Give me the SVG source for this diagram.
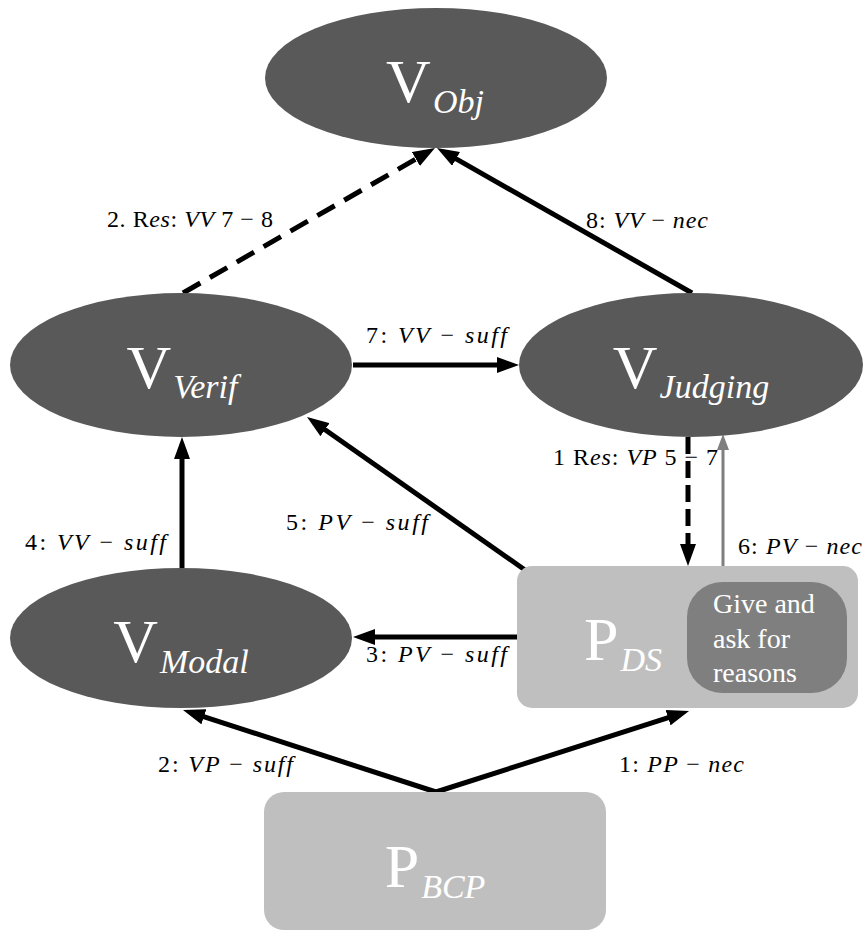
<svg xmlns="http://www.w3.org/2000/svg" width="866" height="932" viewBox="0 0 866 932">
<defs>
<marker id="ah" markerUnits="userSpaceOnUse" markerWidth="22" markerHeight="16" refX="6" refY="8" orient="auto"><path d="M0,0 L22,8 L0,16 z" fill="#000"/></marker>
<marker id="ahg" markerUnits="userSpaceOnUse" markerWidth="16" markerHeight="12" refX="4" refY="6" orient="auto"><path d="M0,0 L16,6 L0,12 z" fill="#7f7f7f"/></marker>
<style>
.e{stroke:#000;stroke-width:5;fill:none;marker-end:url(#ah)}
.d1{stroke-dasharray:20 11}
.d2{stroke-dasharray:17 7}
.g{stroke:#7f7f7f;stroke-width:3;fill:none;marker-end:url(#ahg)}
.ell{fill:#595959}
.box{fill:#bfbfbf}
.inner{fill:#7f7f7f}
text{font-family:'Liberation Serif',serif}
.big{font-size:62px;fill:#fff}
.sub{font-style:italic;font-size:34px}
.lbl{font-size:24px;fill:#000}
.it{font-style:italic}
.txt{font-size:28px;fill:#fff}
</style>
</defs>
<g id="connectors">
<line class="e d1" x1="183" y1="293" x2="421.1" y2="156"/>
<line class="e" x1="692" y1="293" x2="450.9" y2="155.9"/>
<line class="e" x1="353" y1="365" x2="503" y2="365"/>
<line class="e d2" x1="688" y1="437" x2="688" y2="550"/>
<line class="g" x1="723" y1="582" x2="723" y2="446"/>
<line class="e" x1="525" y1="570" x2="320.1" y2="426.2"/>
<line class="e" x1="182" y1="568" x2="182" y2="453"/>
<line class="e" x1="517" y1="637" x2="369" y2="637"/>
<line class="e" x1="436" y1="792" x2="198.2" y2="714.9"/>
<line class="e" x1="436" y1="792" x2="673.8" y2="715.9"/>
</g>
<g id="V_Obj"><ellipse class="ell" cx="436" cy="78" rx="171" ry="70"/><text class="big" font-family="Liberation Serif, serif" x="435" y="102" text-anchor="middle">V<tspan class="sub" dx="2" dy="11">Obj</tspan></text></g>
<g id="V_Verif"><ellipse class="ell" cx="181" cy="365" rx="171" ry="72"/><text class="big" font-family="Liberation Serif, serif" x="182" y="388" text-anchor="middle">V<tspan class="sub" dx="2" dy="10">Verif</tspan></text></g>
<g id="V_Judging"><ellipse class="ell" cx="691" cy="365" rx="172" ry="72"/><text class="big" font-family="Liberation Serif, serif" x="691" y="388" text-anchor="middle">V<tspan class="sub" dx="2" dy="10">Judging</tspan></text></g>
<g id="V_Modal"><ellipse class="ell" cx="181" cy="638" rx="171" ry="70"/><text class="big" font-family="Liberation Serif, serif" x="181" y="662" text-anchor="middle">V<tspan class="sub" dx="2" dy="11">Modal</tspan></text></g>
<g id="P_DS"><rect class="box" x="517" y="566" width="341" height="142" rx="15"/><text class="big" font-family="Liberation Serif, serif" x="623" y="660" text-anchor="middle">P<tspan class="sub" dx="2" dy="11">DS</tspan></text>
<g id="GiveAsk"><rect class="inner" x="687" y="582" width="160" height="111" rx="35"/><text class="txt" font-family="Liberation Serif, serif" x="713" y="613">Give and</text><text class="txt" font-family="Liberation Serif, serif" x="713" y="648">ask for</text><text class="txt" font-family="Liberation Serif, serif" x="713" y="682">reasons</text></g></g>
<g id="P_BCP"><rect class="box" x="264" y="792" width="342" height="138" rx="20"/><text class="big" font-family="Liberation Serif, serif" x="435" y="887" text-anchor="middle">P<tspan class="sub" dx="2" dy="11">BCP</tspan></text></g>
<g id="edge-labels" font-family="Liberation Serif, serif">
<text class="lbl" x="107" y="227" textLength="166">2. R<tspan class="it">es</tspan>: <tspan class="it">VV</tspan> 7 − 8</text>
<text class="lbl" x="586" y="228" textLength="122">8: <tspan class="it">VV</tspan> − <tspan class="it">nec</tspan></text>
<text class="lbl" x="366" y="343" textLength="141">7: <tspan class="it">VV</tspan> − <tspan class="it">suff</tspan></text>
<text class="lbl" x="553" y="465" textLength="165">1 R<tspan class="it">es</tspan>: <tspan class="it">VP</tspan> 5 − 7</text>
<text class="lbl" x="286" y="530" textLength="142">5: <tspan class="it">PV</tspan> − <tspan class="it">suff</tspan></text>
<text class="lbl" x="25" y="550" textLength="141">4: <tspan class="it">VV</tspan> − <tspan class="it">suff</tspan></text>
<text class="lbl" x="738" y="554" textLength="124">6: <tspan class="it">PV</tspan> − <tspan class="it">nec</tspan></text>
<text class="lbl" x="366" y="662" textLength="141">3: <tspan class="it">PV</tspan> − <tspan class="it">suff</tspan></text>
<text class="lbl" x="158" y="772" textLength="135">2: <tspan class="it">VP</tspan> − <tspan class="it">suff</tspan></text>
<text class="lbl" x="619" y="772" textLength="125">1: <tspan class="it">PP</tspan> − <tspan class="it">nec</tspan></text>
</g>
</svg>
